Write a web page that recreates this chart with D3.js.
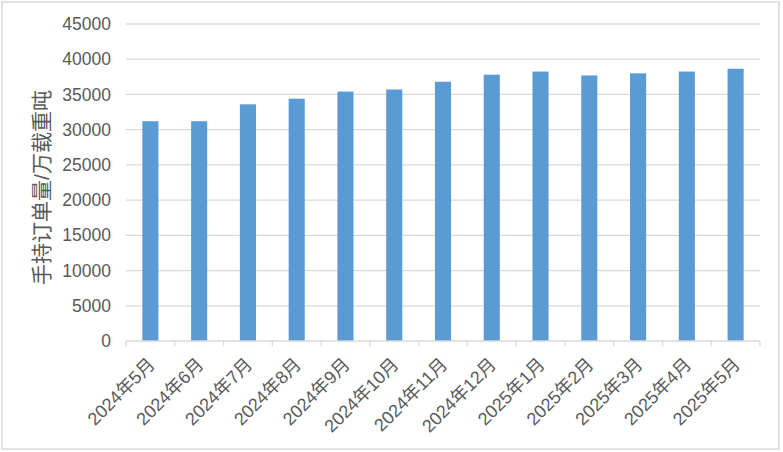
<!DOCTYPE html>
<html>
<head>
<meta charset="utf-8">
<script src="https://cdn.jsdelivr.net/npm/d3@7"></script>
<style>
  body { margin: 0; background: #fff; }
  svg text { font-family: "Liberation Sans", "Noto Sans CJK SC", sans-serif; fill: #595959; }
</style>
</head>
<body>
<div id="chart"></div>
<script>
// 月份
const months = ["2024年5月","2024年6月","2024年7月","2024年8月","2024年9月","2024年10月","2024年11月",
  "2024年12月","2025年1月","2025年2月","2025年3月","2025年4月","2025年5月"];
// 手持订单量（万载重吨）
const orders = [31200, 31200, 33600, 34400, 35400, 35700, 36800, 37800, 38250, 37700, 38000, 38250, 38650];
const yTicks = [0,5000,10000,15000,20000,25000,30000,35000,40000,45000];

const W = 783, H = 452;
const m = {left: 126, right: 23, top: 24, bottom: 111};

const svg = d3.select("#chart").append("svg").attr("width", W).attr("height", H);

// 外框
svg.append("rect").attr("x", 2).attr("y", 2).attr("width", W - 6).attr("height", H - 5)
  .attr("fill", "none").attr("stroke", "#d9d9d9").attr("stroke-width", 1.5);

const x = d3.scaleBand().domain(months).range([m.left, W - m.right]).paddingInner(0.67).paddingOuter(0.335);
const y = d3.scaleLinear().domain([0, 45000]).range([H - m.bottom, m.top]);

// 网格线
svg.append("g").selectAll("line").data(yTicks.slice(1)).join("line")
  .attr("x1", m.left).attr("x2", W - m.right)
  .attr("y1", d => y(d)).attr("y2", d => y(d))
  .attr("stroke", "#d9d9d9").attr("stroke-width", 1.3);

// y 轴标签
const yAxis = svg.append("g").attr("transform", `translate(${m.left - 15},0)`)
  .call(d3.axisLeft(y).tickValues(yTicks).tickFormat(d3.format("d")).tickSize(0).tickPadding(0));
yAxis.select(".domain").remove();
yAxis.selectAll("text").style("font-size", "17.5px").attr("fill", "#595959");

// 柱
svg.append("g").selectAll("rect").data(orders).join("rect")
  .attr("x", (d, i) => x(months[i]))
  .attr("y", d => y(d))
  .attr("width", x.bandwidth())
  .attr("height", d => y(0) - y(d))
  .attr("fill", "#5b9bd5");

// x 轴
const step = x.step();
const xAxis = svg.append("g").attr("transform", `translate(0,${y(0)})`);
xAxis.append("line").attr("x1", m.left).attr("x2", W - m.right)
  .attr("stroke", "#d9d9d9").attr("stroke-width", 1.3);
xAxis.selectAll("line.tick").data(d3.range(months.length + 1)).join("line")
  .attr("class", "tick")
  .attr("x1", i => m.left + i * step).attr("x2", i => m.left + i * step)
  .attr("y1", 0).attr("y2", 5)
  .attr("stroke", "#d9d9d9").attr("stroke-width", 1.3);
xAxis.selectAll("text").data(months).join("text")
  .attr("transform", d => `translate(${x(d) + x.bandwidth() / 2 - 4},15) rotate(-45)`)
  .attr("text-anchor", "end")
  .attr("dy", "0.75em")
  .style("font-size", "18px")
  .text(d => d);

// y 轴标题
svg.append("text")
  .attr("transform", `translate(49,${(m.top + y(0)) / 2 + 5}) rotate(-90)`)
  .attr("text-anchor", "middle")
  .style("font-size", "21px")
  .text("手持订单量/万载重吨");
</script>
</body>
</html>
